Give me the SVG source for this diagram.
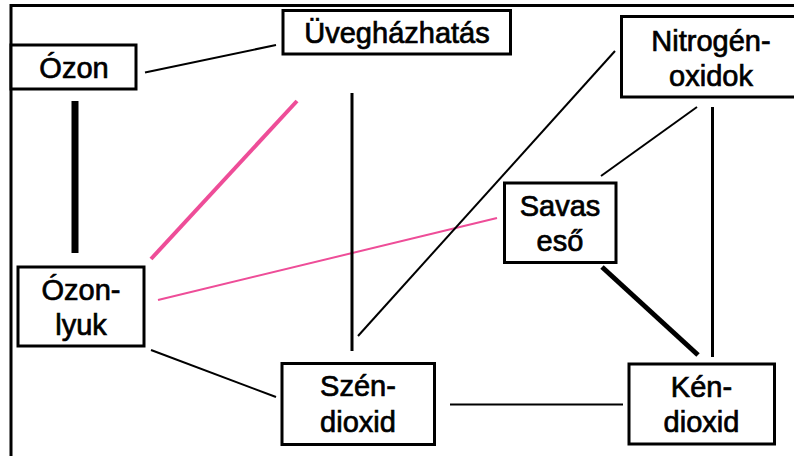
<svg xmlns="http://www.w3.org/2000/svg" width="794" height="456" viewBox="0 0 794 456">
  <style>
    .box { fill: #ffffff; stroke: #000000; stroke-width: 3; }
    .lbl { font-family: "Liberation Sans", Arial, Helvetica, sans-serif; font-size: 29px; fill: #000000; stroke: #000000; stroke-width: 0.7; text-anchor: middle; }
    .ln { stroke: #000000; stroke-width: 2; fill: none; stroke-linecap: butt; }
    .mid { stroke-width: 3; }
    .heavy { stroke-width: 5; }
    .bar { stroke-width: 7; }
    .pink { stroke: #ee4d98; }
    .pink-wide { stroke-width: 4; }
  </style>

  <rect width="794" height="456" fill="#ffffff"/>

  <!-- outer frame, open to the right and bottom -->
  <path d="M11,460 V5.5 H800" fill="none" stroke="#000000" stroke-width="3"/>

  <!-- connectors -->
  <g id="connectors">
    <line class="ln" x1="145" y1="72.5" x2="276" y2="45"/>
    <line class="ln bar" x1="75" y1="101" x2="75" y2="253"/>
    <line class="ln pink pink-wide" x1="151" y1="259" x2="297" y2="101"/>
    <line class="ln pink" x1="158" y1="300" x2="497" y2="218"/>
    <line class="ln" x1="151" y1="350" x2="276" y2="397"/>
    <line class="ln mid" x1="352" y1="93" x2="352" y2="351"/>
    <line class="ln" x1="615" y1="51" x2="358" y2="336"/>
    <line class="ln" x1="697" y1="107" x2="601" y2="176"/>
    <line class="ln mid" x1="712.5" y1="107" x2="712.5" y2="357"/>
    <line class="ln heavy" x1="602" y1="267" x2="698" y2="355"/>
    <line class="ln" x1="450" y1="404.5" x2="623" y2="404.5"/>
  </g>

  <g id="ozon">
    <rect class="box" x="11" y="45" width="125" height="44"/>
    <text class="lbl" x="74" y="78">Ózon</text>
  </g>

  <g id="uveghazhatas">
    <rect class="box" x="283" y="10.5" width="227.5" height="43.5"/>
    <text class="lbl" x="397" y="43">Üvegházhatás</text>
  </g>

  <g id="nitrogen-oxidok">
    <rect class="box" x="621.5" y="16.5" width="200" height="80.5"/>
    <text class="lbl" x="711" y="51">Nitrogén-</text>
    <text class="lbl" x="711" y="86">oxidok</text>
  </g>

  <g id="ozonlyuk">
    <rect class="box" x="18" y="267" width="126" height="79"/>
    <text class="lbl" x="81" y="300">Ózon-</text>
    <text class="lbl" x="81" y="335">lyuk</text>
  </g>

  <g id="savas-eso">
    <rect class="box" x="504.5" y="183" width="111.5" height="79.5"/>
    <text class="lbl" x="560" y="216">Savas</text>
    <text class="lbl" x="560" y="251">eső</text>
  </g>

  <g id="szen-dioxid">
    <rect class="box" x="282" y="363.5" width="152.5" height="81"/>
    <text class="lbl" x="358" y="396">Szén-</text>
    <text class="lbl" x="358" y="432">dioxid</text>
  </g>

  <g id="ken-dioxid">
    <rect class="box" x="629" y="364" width="145.5" height="80"/>
    <text class="lbl" x="701.5" y="397">Kén-</text>
    <text class="lbl" x="701.5" y="432">dioxid</text>
  </g>
</svg>
